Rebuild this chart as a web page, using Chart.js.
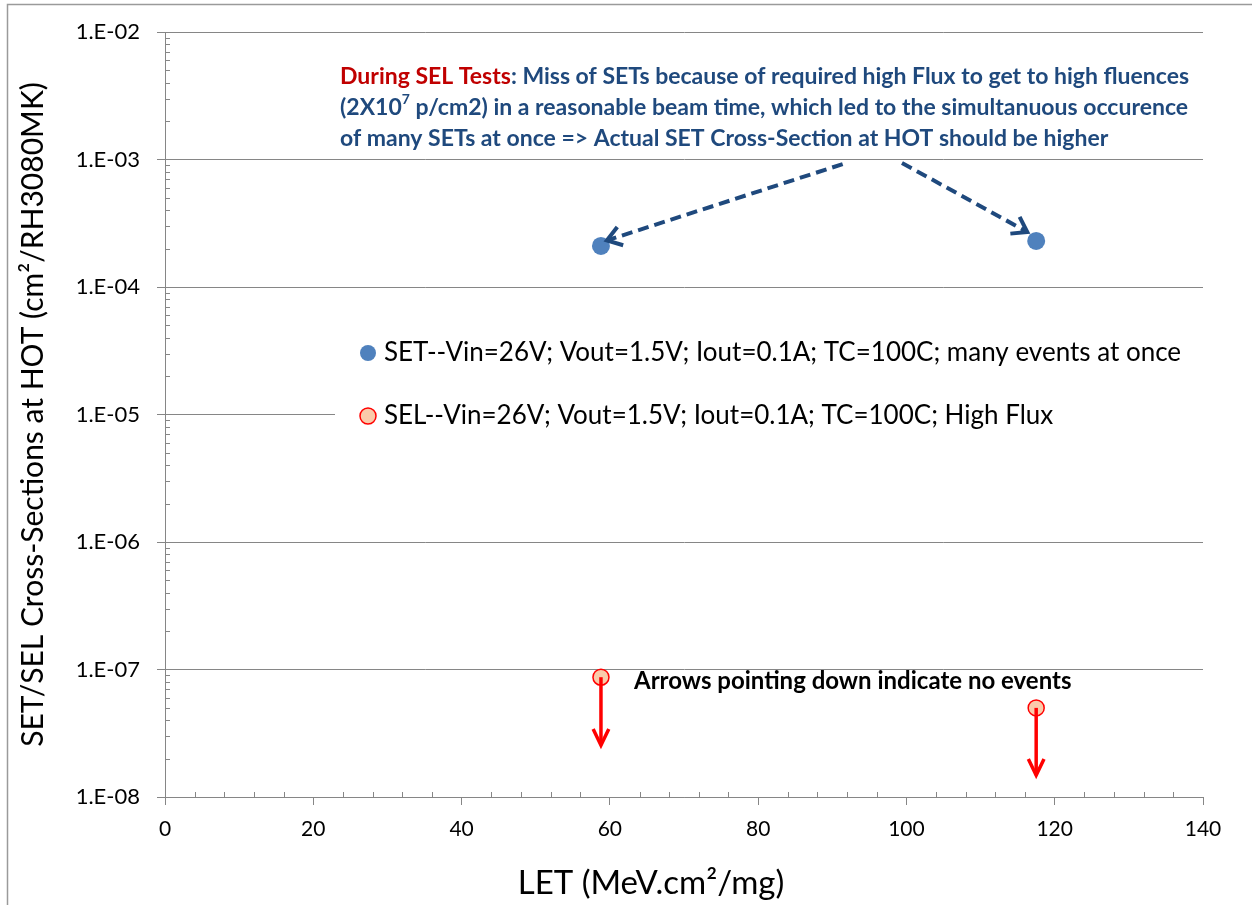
<!DOCTYPE html>
<html>
<head>
<meta charset="utf-8">
<title>SET/SEL Cross-Sections at HOT</title>
<script src="https://cdn.jsdelivr.net/npm/chart.js@4.4.1/dist/chart.umd.min.js"></script>
<style>
  html, body { margin: 0; padding: 0; background: #fff; }
  #wrap { width: 1252px; height: 905px; position: relative; }
</style>
</head>
<body>
<div id="wrap"><canvas id="grafico"></canvas></div>
<script>
// LET values (MeV.cm2/mg) of the two test runs
const letValues = [58.8, 117.5]
// SET cross-sections, many events at once
const setCross = [2.1e-4, 2.3e-4]
// SEL cross-sections, no events seen (upper limits)
const selCross = [8.7e-8, 5.0e-8]
// where the "no events" arrows end
const selArrowTo = [2.55e-8, 1.48e-8]
// dashed callout arrows: start point -> tip, in data units
const calloutFrom = [[91.4, 9.2e-4], [99.4, 9.4e-4]]
const calloutTo = [[59.6, 2.32e-4], [116.3, 2.7e-4]]

const xTicks = [0, 20, 40, 60, 80, 100, 120, 140]
const yDecades = [-8, -7, -6, -5, -4, -3, -2]

const FONT = 'Lato'
const AXIS_GRAY = '#868686'
const NAVY = '#1F497D'

function fmtExp(v) {
    const e = Math.round(Math.log10(v))
    return '1.E' + (e < 0 ? '-' : '+') + String(Math.abs(e)).padStart(2, '0')
}

function arrow(ctx, x1, y1, x2, y2, head, spread) {
    const a = Math.atan2(y2 - y1, x2 - x1)
    ctx.beginPath()
    ctx.moveTo(x1, y1)
    ctx.lineTo(x2, y2)
    ctx.stroke()
    ctx.setLineDash([])
    ctx.beginPath()
    ctx.moveTo(x2 - head * Math.cos(a - spread), y2 - head * Math.sin(a - spread))
    ctx.lineTo(x2, y2)
    ctx.lineTo(x2 - head * Math.cos(a + spread), y2 - head * Math.sin(a + spread))
    ctx.stroke()
}

// text made of colored pieces; sup pieces are raised and smaller
function richLine(ctx, x, y, parts, size) {
    let cx = x
    parts.forEach(p => {
        const s = p.sup ? Math.round(size * 0.6) : size
        ctx.font = 'bold ' + s + 'px ' + FONT
        ctx.fillStyle = p.color
        ctx.fillText(p.text, cx, p.sup ? y - size * 0.35 : y)
        cx += ctx.measureText(p.text).width
    })
}

const extras = {
    id: 'extras',
    beforeDatasetsDraw(chart) {
        const {ctx, chartArea, scales: {x, y}} = chart
        ctx.save()
        // minor ticks: x every 4 units (inside), y at 2..9 of each decade (inside)
        ctx.strokeStyle = AXIS_GRAY
        ctx.lineWidth = 1
        ctx.beginPath()
        for (let v = 4; v < 140; v += 4) {
            if (v % 20 === 0) continue
            const px = Math.round(x.getPixelForValue(v)) + 0.5
            ctx.moveTo(px, chartArea.bottom)
            ctx.lineTo(px, chartArea.bottom - 5)
        }
        yDecades.slice(0, -1).forEach(d => {
            for (let m = 2; m <= 9; m++) {
                const py = Math.round(y.getPixelForValue(m * Math.pow(10, d))) + 0.5
                ctx.moveTo(chartArea.left, py)
                ctx.lineTo(chartArea.left + 5, py)
            }
        })
        ctx.stroke()

        // legend box inside the plot
        ctx.fillStyle = '#fff'
        ctx.fillRect(335, 320, chartArea.right - 335, 128)
        const rows = [353, 416]
        chart.data.datasets.forEach((ds, i) => {
            ctx.beginPath()
            ctx.arc(368, rows[i], 8, 0, Math.PI * 2)
            ctx.fillStyle = ds.backgroundColor
            ctx.fill()
            if (ds.borderWidth) {
                ctx.lineWidth = ds.borderWidth
                ctx.strokeStyle = ds.borderColor
                ctx.stroke()
            }
            ctx.font = '26px ' + FONT
            ctx.fillStyle = '#000'
            ctx.textBaseline = 'middle'
            ctx.fillText(ds.label, 384, rows[i])
        })
        ctx.restore()
    },
    afterDatasetsDraw(chart) {
        const {ctx, scales: {x, y}} = chart
        ctx.save()
        // "no events" arrows below the SEL points
        ctx.strokeStyle = '#FF0000'
        ctx.lineWidth = 3.5
        ctx.lineCap = 'butt'
        letValues.forEach((lv, i) => {
            const px = x.getPixelForValue(lv)
            arrow(ctx, px, y.getPixelForValue(selCross[i]), px, y.getPixelForValue(selArrowTo[i]), 18, 0.45)
        })
        // dashed callout arrows to the SET points
        ctx.strokeStyle = NAVY
        ctx.lineWidth = 4
        calloutFrom.forEach((f, i) => {
            ctx.setLineDash([11, 6])
            arrow(ctx, x.getPixelForValue(f[0]), y.getPixelForValue(f[1]),
                x.getPixelForValue(calloutTo[i][0]), y.getPixelForValue(calloutTo[i][1]), 17, 0.6)
        })

        // annotation texts
        ctx.textBaseline = 'middle'
        ctx.textAlign = 'left'
        richLine(ctx, 340, 77, [
            {text: 'During SEL Tests', color: '#C00000'},
            {text: ': Miss of SETs because of required high Flux to get to high fluences', color: NAVY}
        ], 23)
        richLine(ctx, 340, 108, [
            {text: '(2X10', color: NAVY},
            {text: '7', color: NAVY, sup: true},
            {text: ' p/cm2) in a reasonable beam time, which led to the simultanuous occurence', color: NAVY}
        ], 23)
        richLine(ctx, 340, 139, [
            {text: 'of many SETs at once => Actual SET Cross-Section at HOT should be higher', color: NAVY}
        ], 23)
        richLine(ctx, 634, 681, [
            {text: 'Arrows pointing down indicate no events', color: '#000'}
        ], 24)

        // x axis title
        ctx.font = '33px ' + FONT
        ctx.fillStyle = '#000'
        ctx.textAlign = 'center'
        ctx.fillText('LET (MeV.cm\u00B2/mg)', 651, 883)

        // outer frame of the chart
        ctx.strokeStyle = '#9a9a9a'
        ctx.lineWidth = 1.5
        ctx.strokeRect(7.5, 4.5, 1270, 930)
        ctx.restore()
    }
}

const contexto = document.getElementById('grafico').getContext('2d')

const grafico = new Chart(contexto, {
    type: 'scatter',
    data: {
        datasets: [{
            label: 'SET--Vin=26V; Vout=1.5V; Iout=0.1A; TC=100C; many events at once',
            data: letValues.map((v, i) => ({x: v, y: setCross[i]})),
            backgroundColor: '#4F81BD',
            borderColor: '#4F81BD',
            borderWidth: 0,
            pointRadius: 9,
            pointHoverRadius: 9
        }, {
            label: 'SEL--Vin=26V; Vout=1.5V; Iout=0.1A; TC=100C; High Flux',
            data: letValues.map((v, i) => ({x: v, y: selCross[i]})),
            backgroundColor: '#FACBAA',
            borderColor: '#FF0000',
            borderWidth: 1.5,
            pointRadius: 8,
            pointHoverRadius: 8
        }]
    },
    options: {
        responsive: true,
        maintainAspectRatio: false,
        animation: false,
        events: [],
        layout: {padding: {top: 32, right: 49, left: 0, bottom: 0}},
        plugins: {
            legend: {display: false},
            tooltip: {enabled: false}
        },
        scales: {
            x: {
                type: 'linear',
                min: 0,
                max: 140,
                afterBuildTicks: s => { s.ticks = xTicks.map(v => ({value: v})) },
                afterFit: s => { s.height = 108 },
                ticks: {
                    color: '#000',
                    font: {family: FONT, size: 21},
                    padding: 12,
                    maxRotation: 0
                },
                grid: {
                    drawOnChartArea: false,
                    color: AXIS_GRAY,
                    tickLength: 8
                },
                border: {color: AXIS_GRAY}
            },
            y: {
                type: 'logarithmic',
                min: 1e-8,
                max: 1e-2,
                afterBuildTicks: s => { s.ticks = yDecades.map(d => ({value: Math.pow(10, d), major: true})) },
                afterFit: s => { s.width = 165 },
                ticks: {
                    color: '#000',
                    font: {family: FONT, size: 22},
                    padding: 17,
                    callback: v => fmtExp(v)
                },
                grid: {
                    color: AXIS_GRAY,
                    tickLength: 8
                },
                border: {color: AXIS_GRAY},
                title: {
                    display: true,
                    text: 'SET/SEL Cross-Sections at HOT (cm\u00B2/RH3080MK)',
                    color: '#000',
                    font: {family: FONT, size: 30},
                    padding: {top: 15, bottom: 0}
                }
            }
        }
    },
    plugins: [extras]
})
</script>
</body>
</html>
